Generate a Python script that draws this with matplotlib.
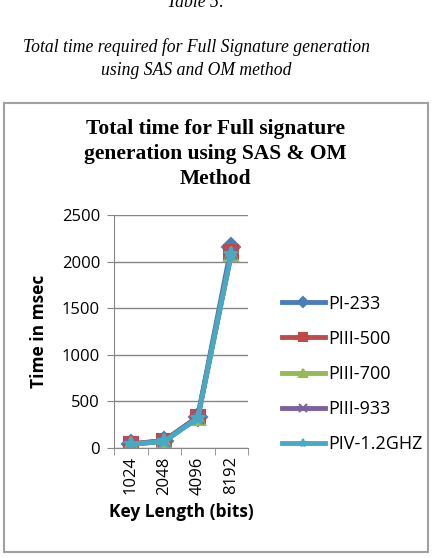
import matplotlib.pyplot as plt
from matplotlib.patches import Rectangle

# data
key_lengths = ["1024", "2048", "4096", "8192"]
pi_233 = [45, 80, 335, 2160]
piii_500 = [42, 78, 330, 2100]
piii_700 = [38, 72, 320, 2080]
piii_933 = [40, 75, 325, 2090]
piv_12ghz = [38, 72, 320, 2080]

series = [
    ("PI-233", pi_233, "#4A7EBB", "D", 9),
    ("PIII-500", piii_500, "#BE4B48", "s", 10),
    ("PIII-700", piii_700, "#98B954", "^", 10),
    ("PIII-933", piii_933, "#7D60A0", "x", 9),
    ("PIV-1.2GHZ", piv_12ghz, "#46AAC5", "*", 10),
]

fig = plt.figure(figsize=(4.34, 5.58), dpi=100)

# caption above chart
fig.text(0.452, 0.996, "Table 5:", family="Liberation Serif", style="italic",
         fontsize=12.7, ha="center", va="center")
fig.text(0.452, 0.915, "Total time required for Full Signature generation",
         family="Liberation Serif", style="italic", fontsize=12.7, ha="center", va="center")
fig.text(0.452, 0.874, "using SAS and OM method",
         family="Liberation Serif", style="italic", fontsize=12.7, ha="center", va="center")

# chart border
fig.patches.append(Rectangle((4 / 434, 1 - 552 / 558), 424 / 434, 449 / 558,
                             transform=fig.transFigure, fill=False,
                             edgecolor="#A0A0A0", linewidth=1.5))

fig.text(0.497, 0.724, "Total time for Full signature\ngeneration using SAS & OM\nMethod",
         family="Liberation Serif", weight="bold", fontsize=15.5, ha="center", va="center",
         linespacing=1.32)

ax = fig.add_axes([114 / 434, 1 - 448 / 558, 134 / 434, 233 / 558])
x = range(len(key_lengths))
for name, vals, col, mk, ms in series:
    ax.plot(x, vals, color=col, linewidth=3.5, marker=mk, markersize=ms,
            markeredgecolor=col, markeredgewidth=1.5, label=name)

ax.set_xlim(-0.5, 3.5)
ax.set_ylim(0, 2500)
ax.set_yticks([0, 500, 1000, 1500, 2000, 2500])
ax.set_xticks(list(x))
ax.set_xticklabels(key_lengths, rotation=90, family="Open Sans", fontsize=12)
ax.set_xticks([-0.5, 0.5, 1.5, 2.5, 3.5], minor=True)
ax.tick_params(axis="x", which="major", length=0, pad=6)
ax.tick_params(axis="x", which="minor", length=5, color="#868686", direction="out")
ax.tick_params(axis="y", length=5, color="#868686", direction="out", pad=5)
for lab in ax.get_yticklabels():
    lab.set_family("Open Sans")
    lab.set_fontsize(12)
ax.grid(axis="y", color="#868686", linewidth=1)
for s in ["top", "right"]:
    ax.spines[s].set_visible(False)
ax.spines["left"].set_color("#868686")
ax.spines["bottom"].set_color("#868686")
ax.set_axisbelow(True)

ax.set_xlabel("Key Length (bits)", family="Open Sans", weight="bold", fontsize=12.5, labelpad=6)
ax.set_ylabel("Time in msec", family="Open Sans", weight="bold", fontsize=12.5, labelpad=10)

ax.legend(loc="center left", bbox_to_anchor=(1.13, 0.318), frameon=False,
          prop={"family": "Open Sans", "size": 13}, labelspacing=0.95,
          handlelength=2.4, handletextpad=0.2, markerscale=0.6)

fig.savefig("out.png", dpi=100)
